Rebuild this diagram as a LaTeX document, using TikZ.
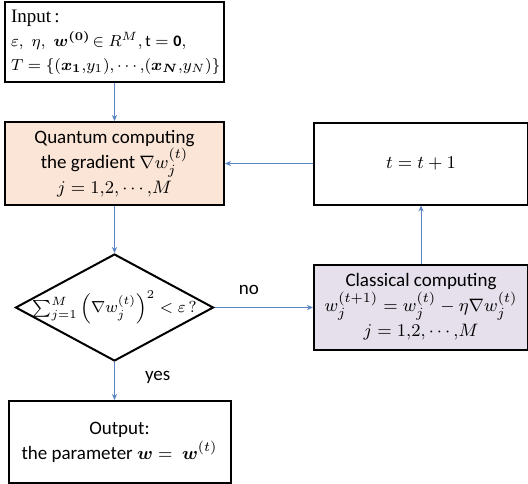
\documentclass[tikz,border=0pt]{standalone}
\usepackage{amsmath}
\usepackage{amssymb}
\usepackage{fontspec}
\setmainfont{Carlito}
\newfontfamily\inputfont{Liberation Serif}
\usetikzlibrary{positioning, arrows.meta, shapes.geometric}
\definecolor{ink}{HTML}{000000}
\definecolor{qfill}{HTML}{FBE5D6}
\definecolor{cfill}{HTML}{E5E0EC}
\definecolor{flowblue}{HTML}{5B84C4}
\tikzset{
  box/.style={draw=ink, line width=1pt, fill=white, text=ink,
    font=\fontsize{9.5}{12.5}\selectfont, align=center, inner sep=3pt},
  qbox/.style={box, fill=qfill},
  cbox/.style={box, fill=cfill},
  decision/.style={diamond, draw=ink, line width=1pt, fill=white, inner sep=0pt},
  flow/.style={-{Stealth[length=3pt, width=2.6pt]}, line width=0.5pt, color=flowblue},
  lbl/.style={font=\fontsize{9.5}{12}\selectfont, text=ink, inner sep=1pt},
}

\begin{document}
\begin{tikzpicture}[x=0.5pt, y=-0.5pt]
  \useasboundingbox (0,0) rectangle (528,483);
  \node[box, minimum height=40pt, text width=103.5pt, inner xsep=3pt, align=left,
    font=\inputfont\fontsize{8}{12}\selectfont] (input) at (114.5,42)
    {{\fontsize{9.5}{12}\selectfont Input\,:}\\
     ${\varepsilon,\ \eta,\ \boldsymbol{w^{(0)}}\!\in R^M,\mathrm{t}=\mathbf{0},}$\\
     ${T=\{(\boldsymbol{x_1}{,}y_1){,}\cdots{,}(\boldsymbol{x_N}{,}y_N)\}}$};
  \node[qbox, below=19pt of input, minimum width=109.5pt, minimum height=41.5pt] (quantum)
    {Quantum computing\\ the gradient $\nabla w_j^{(t)}$\\ $j=1{,}2{,}\cdots{,}M$};
  \node[decision, below=23.5pt of quantum, minimum width=99pt, minimum height=53.5pt,
    label={center:\fontsize{8.4}{10}\selectfont$\sum_{j=1}^{M}\left(\nabla w_j^{(t)}\right)^{2}<\varepsilon\,?$}] (cond) {};
  \node[box, below=19pt of cond, xshift=2.5pt, minimum width=111pt, minimum height=41pt] (output)
    {Output:\\ the parameter $\boldsymbol{w}=\ \boldsymbol{w}^{(t)}$};
  % right rail
  \node[box, right=44pt of quantum, minimum width=107pt, minimum height=41pt] (tinc) {$t=t+1$};
  \node[cbox, below=29pt of tinc, minimum width=107pt, minimum height=42.5pt] (classical)
    {Classical computing\\ $w_j^{(t+1)}=w_j^{(t)}-\eta\nabla w_j^{(t)}$\\ $j=1{,}2{,}\cdots{,}M$};
  \draw[flow] (input.south -| quantum.north) -- (quantum.north);
  \draw[flow] (quantum.south) -- (cond.north);
  \draw[flow] (cond.south) -- node[lbl, pos=0.4, right=14pt] {yes} (cond.south |- output.north);
  \draw[flow] (cond.east) -- node[lbl, pos=0.35, above=5pt] {no} (cond.east -| classical.west);
  \draw[flow] (classical.north) -- (tinc.south);
  \draw[flow] (tinc.west) -- (tinc.west -| quantum.east);
\end{tikzpicture}
\end{document}
